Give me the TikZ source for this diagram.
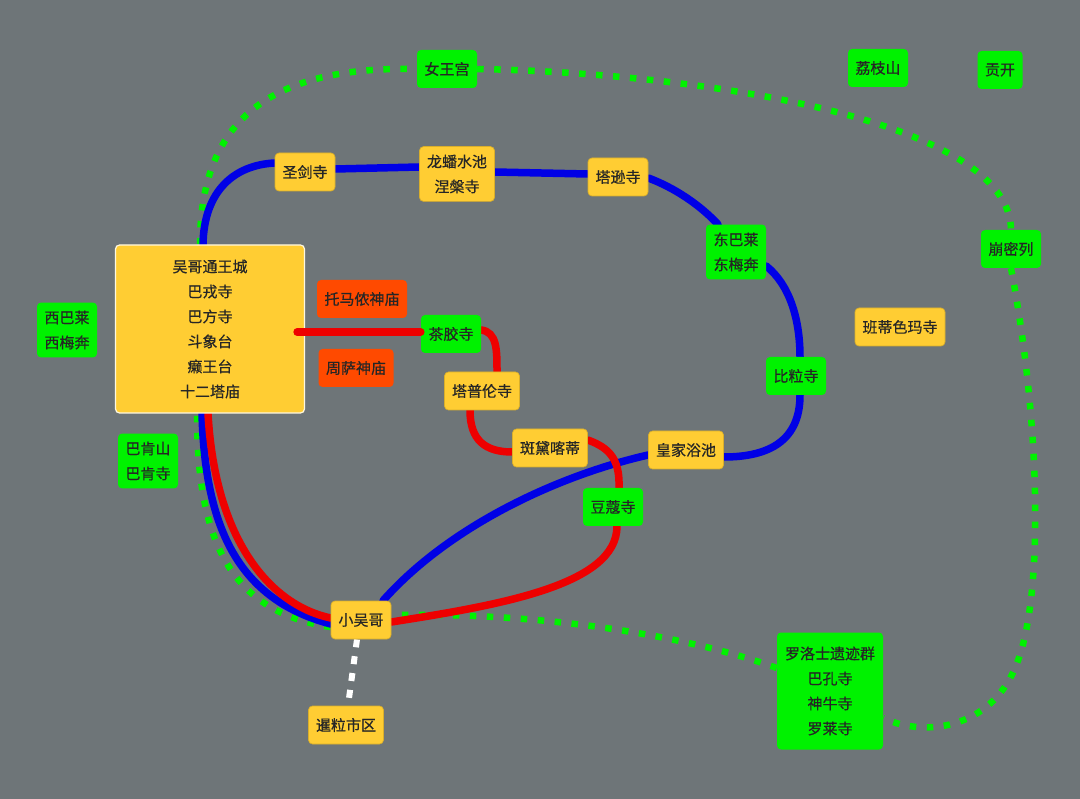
\documentclass[tikz,border=0pt]{standalone}
\usepackage{fontspec}
\newfontfamily\cjk[FakeBold=0.6]{Noto Sans CJK SC}
\definecolor{bggray}{HTML}{6E7578}
\definecolor{spotyellow}{HTML}{FFCD33}
\definecolor{spotgreen}{HTML}{00F200}
\definecolor{spotred}{HTML}{FF4A00}
\definecolor{lineblue}{HTML}{0000E6}
\definecolor{linered}{HTML}{EE0000}
\pgfdeclarelayer{bg}
\pgfdeclarelayer{lines}
\pgfsetlayers{bg,lines,main}
\tikzset{
	spot/.style={rounded corners=4pt, inner xsep=7.5pt, inner ysep=8pt, minimum height=38pt, align=center, text=black!85, font=\cjk\fontsize{15}{25}\selectfont},
	yellowspot/.style={spot, fill=spotyellow, draw=spotyellow!85!black, line width=0.7pt},
	greenspot/.style={spot, fill=spotgreen},
	redspot/.style={spot, fill=spotred},
	bigline/.style={line width=7.5pt, line cap=round},
	blueline/.style={bigline, draw=lineblue},
	redline/.style={bigline, draw=linered},
	tourline/.style={line width=6.5pt, draw=spotgreen, dash pattern=on 6.5pt off 10.5pt},
	walkline/.style={line width=6pt, draw=white, dash pattern=on 8pt off 9pt},
}
\begin{document}
\begin{tikzpicture}[x=1pt, y=-1pt]
	\begin{pgfonlayer}{bg}
		\fill[bggray] (0,0) rectangle (1080,799);
	\end{pgfonlayer}

	%sites
	\node[greenspot] (nvwang) at (447,69) {女王宫};
	\node[greenspot] (lizhi) at (878,68) {荔枝山};
	\node[greenspot] (gongkai) at (1000,70) {贡开};
	\node[yellowspot] (shengjian) at (305,172) {圣剑寺};
	\node[yellowspot] (longpan) at (457,174) {龙蟠水池\\涅槃寺};
	\node[yellowspot] (taxun) at (618,177) {塔逊寺};
	\node[greenspot] (dongbalai) at (736,252) {东巴莱\\东梅奔};
	\node[greenspot] (bengmilie) at (1011,249) {崩密列};
	\node[yellowspot, draw=white!85!spotyellow, line width=1.2pt, minimum width=189pt, minimum height=168pt] (wu) at (210,329) {吴哥通王城\\巴戎寺\\巴方寺\\斗象台\\癞王台\\十二塔庙};
	\node[redspot] (tuoma) at (362,299) {托马侬神庙};
	\node[redspot] (zhousa) at (356,368) {周萨神庙};
	\node[greenspot] (xibalai) at (67,330) {西巴莱\\西梅奔};
	\node[greenspot] (chajiao) at (451,334) {茶胶寺};
	\node[yellowspot] (bantiesema) at (900,327) {班蒂色玛寺};
	\node[yellowspot] (tapulun) at (482,391) {塔普伦寺};
	\node[greenspot] (biliang) at (796,376) {比粒寺};
	\node[yellowspot] (bandai) at (550,448) {斑黛喀蒂};
	\node[yellowspot] (huangjia) at (686,450) {皇家浴池};
	\node[greenspot] (bakeng) at (148,461) {巴肯山\\巴肯寺};
	\node[greenspot] (doukou) at (613,507) {豆蔻寺};
	\node[yellowspot] (xiaowu) at (361,620) {小吴哥};
	\node[yellowspot] (xianli) at (346,725) {暹粒市区};
	\node[greenspot, minimum width=106pt, minimum height=117pt] (luoluo) at (830,691) {罗洛士遗迹群\\巴孔寺\\神牛寺\\罗莱寺};

	\begin{pgfonlayer}{lines}
		%outer loop
		\draw[tourline] ([xshift=-10pt]wu.north) .. controls (200,120) and (270,66) .. (nvwang.west);
		\draw[tourline] (nvwang.east) .. controls (700,73) and (1010,120) .. (bengmilie.north);
		\draw[tourline] (bengmilie.south) .. controls (1040,420) and (1045,600) .. (1015,668) .. controls (990,728) and (925,738) .. ([yshift=-27pt]luoluo.east);
		\draw[tourline] ([yshift=23pt]luoluo.west) .. controls (700,640) and (560,612) .. ([yshift=5pt]xiaowu.east);
		\draw[tourline] ([yshift=-7pt]xiaowu.west) .. controls (230,612) and (197,540) .. ([xshift=-13pt]wu.south);

		%big circuit
		\draw[blueline] ([xshift=-7pt]wu.north) .. controls (204,190) and (235,165) .. ([yshift=9pt]shengjian.west);
		\draw[blueline] ([yshift=3pt]shengjian.east) -- ([yshift=7pt]longpan.west);
		\draw[blueline] ([yshift=2pt]longpan.east) -- ([yshift=3pt]taxun.west);
		\draw[blueline] ([yshift=-1pt]taxun.east) .. controls (675,188) and (700,205) .. ([xshift=-18pt]dongbalai.north);
		\draw[blueline] ([yshift=-14pt]dongbalai.east) .. controls (790,285) and (800,320) .. ([xshift=4pt]biliang.north);
		\draw[blueline] ([xshift=4pt]biliang.south) .. controls (800,440) and (770,457) .. ([yshift=-7pt]huangjia.east);
		\draw[blueline] ([yshift=-5pt]huangjia.west) .. controls (560,475) and (450,525) .. ([xshift=22pt]xiaowu.north);
		\draw[blueline] ([xshift=-8pt]wu.south) .. controls (205,530) and (240,600) .. ([yshift=-4pt]xiaowu.west);

		%small circuit
		\draw[redline] ([yshift=4pt]chajiao.east) .. controls (497,332) and (497,350) .. ([xshift=15pt]tapulun.north);
		\draw[redline] ([xshift=-12pt]tapulun.south) .. controls (470,440) and (485,452) .. ([yshift=-4pt]bandai.west);
		\draw[redline] ([yshift=8pt]bandai.east) .. controls (610,448) and (620,460) .. ([xshift=6pt]doukou.north);
		\draw[redline] ([xshift=4pt]doukou.south) .. controls (617,585) and (500,605) .. ([yshift=-2pt]xiaowu.east);
		\draw[redline] ([xshift=-2pt]wu.south) .. controls (215,540) and (270,605) .. ([yshift=2pt]xiaowu.west);

		%to town
		\draw[walkline] ([xshift=-4pt]xiaowu.south) -- ([xshift=2pt]xianli.north);
	\end{pgfonlayer}
	\draw[redline] ([xshift=-8pt, yshift=-3pt]wu.east) -- ([yshift=2pt]chajiao.west);
\end{tikzpicture}
\end{document}
